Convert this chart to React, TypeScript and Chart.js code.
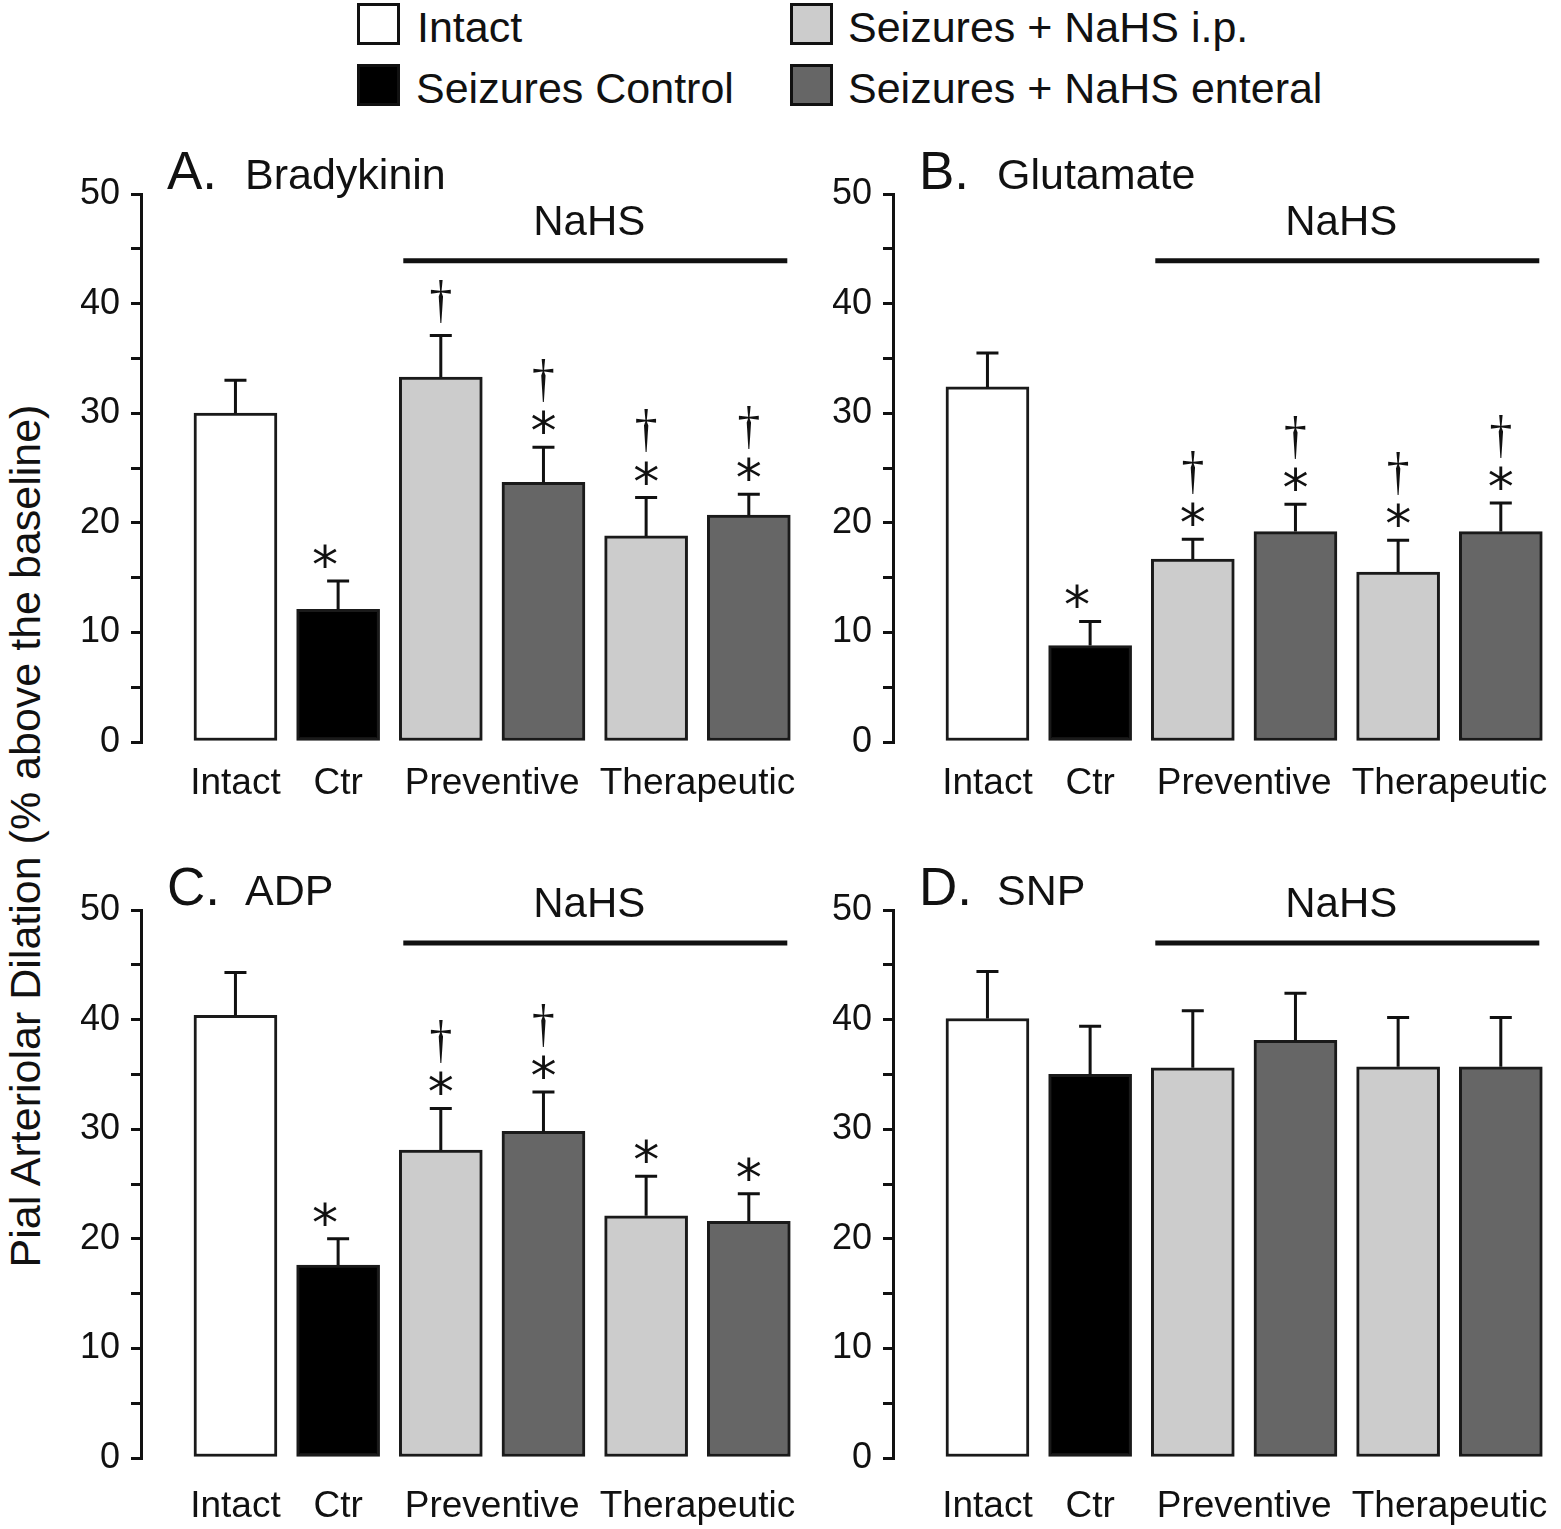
import React, { useEffect, useRef } from 'react';
import { Chart, registerables } from 'chart.js';

Chart.register(...registerables);

const SANS = '"Liberation Sans", Arial, Helvetica, sans-serif';
const SERIF = '"Liberation Serif", "Times New Roman", serif';
const STAR_FONT = '"DejaVu Sans", sans-serif';
const INK = '#111111';

// ---- series / legend ----
const seriesNames = ['Intact', 'Seizures Control', 'Seizures + NaHS i.p.', 'Seizures + NaHS enteral'];
const seriesColors = ['#ffffff', '#000000', '#cccccc', '#666666'];
const barSeries = [0, 1, 2, 3, 2, 3];

// ---- x-axis group labels and the bars each one spans ----
const groupLabels = ['Intact', 'Ctr', 'Preventive', 'Therapeutic'];
const groupFirstBar = [0, 1, 2, 4];
const groupLastBar = [0, 1, 3, 5];

// ---- y axis ----
const yTickLabels = [0, 10, 20, 30, 40, 50];
const yMin = 0;
const yMax = 50;
const yMinorStep = 5;
const yTitle = 'Pial Arteriolar Dilation (% above the baseline)';

// ---- panels ----
const panelLetters = ['A.', 'B.', 'C.', 'D.'];
const panelAgonists = ['Bradykinin', 'Glutamate', 'ADP', 'SNP'];
const bracketText = 'NaHS';
const bracketLevels = [43.9, 43.9, 47.0, 47.0];
const bracketFirstBar = 2;
const bracketLastBar = 5;

// A. Bradykinin
const meansA = [30.0, 12.1, 33.3, 23.7, 18.8, 20.7];
const semA = [3.0, 2.6, 3.8, 3.2, 3.5, 1.9];
const sigA = ['', '*', '†', '†*', '†*', '†*'];
// B. Glutamate
const meansB = [32.4, 8.8, 16.7, 19.2, 15.5, 19.2];
const semB = [3.1, 2.2, 1.8, 2.5, 2.9, 2.6];
const sigB = ['', '*', '†*', '†*', '†*', '†*'];
// C. ADP
const meansC = [40.4, 17.6, 28.1, 29.8, 22.1, 21.6];
const semC = [3.9, 2.4, 3.8, 3.6, 3.6, 2.5];
const sigC = ['', '*', '†*', '†*', '*', '*'];
// D. SNP
const meansD = [40.1, 35.0, 35.6, 38.1, 35.7, 35.7];
const semD = [4.3, 4.4, 5.2, 4.3, 4.5, 4.5];
const sigD = ['', '', '', '', '', ''];

const panelMeans = [meansA, meansB, meansC, meansD];
const panelSem = [semA, semB, semC, semD];
const panelSig = [sigA, sigB, sigC, sigD];

// ---- layout (positions only) ----
const CANVAS_W = 805;
const panelLayout = [
  { left: 0, top: 120, height: 700, labelGap: 42 },
  { left: 752, top: 120, height: 700, labelGap: 42 },
  { left: 0, top: 836, height: 690, labelGap: 49 },
  { left: 752, top: 836, height: 690, labelGap: 49 },
];
const legendLayout = [
  { bx: 357, by: 3, tx: 417, ty: 2 },
  { bx: 357, by: 64, tx: 416, ty: 63 },
  { bx: 790, by: 3, tx: 848, ty: 2 },
  { bx: 790, by: 64, tx: 848, ty: 63 },
];

function drawAsterisk(ctx: CanvasRenderingContext2D, cx: number, cy: number, height: number) {
  ctx.font = `100px ${STAR_FONT}`;
  const m = ctx.measureText('*');
  const h = m.actualBoundingBoxAscent + m.actualBoundingBoxDescent;
  const size = (100 * height) / h;
  ctx.font = `${size}px ${STAR_FONT}`;
  const m2 = ctx.measureText('*');
  ctx.textAlign = 'center';
  ctx.textBaseline = 'alphabetic';
  const y = cy + (m2.actualBoundingBoxAscent - m2.actualBoundingBoxDescent) / 2;
  const xOff = (m2.actualBoundingBoxLeft - m2.actualBoundingBoxRight) / 2;
  ctx.fillText('*', cx + xOff, y);
  return cy - height / 2;
}

function drawDagger(ctx: CanvasRenderingContext2D, cx: number, bottom: number, w: number, h: number) {
  ctx.font = `100px ${SERIF}`;
  ctx.textAlign = 'center';
  ctx.textBaseline = 'alphabetic';
  const m = ctx.measureText('†');
  const gw = m.actualBoundingBoxLeft + m.actualBoundingBoxRight;
  const gh = m.actualBoundingBoxAscent + m.actualBoundingBoxDescent;
  ctx.save();
  ctx.translate(cx, bottom);
  ctx.scale(w / gw, h / gh);
  ctx.fillText('†', (m.actualBoundingBoxLeft - m.actualBoundingBoxRight) / 2, -m.actualBoundingBoxDescent);
  ctx.restore();
}

function makeDecor(pi: number, labelGap: number) {
  const means = panelMeans[pi];
  const sem = panelSem[pi];
  const sig = panelSig[pi];
  return {
    id: 'decor' + pi,
    afterDatasetsDraw(chart: any) {
      const { ctx, chartArea } = chart;
      const ys = chart.scales.y;
      const bars = chart.getDatasetMeta(0).data as any[];
      ctx.save();
      ctx.strokeStyle = INK;
      ctx.fillStyle = INK;
      ctx.lineCap = 'butt';
      // error bars + significance marks
      means.forEach((m, i) => {
        const x = bars[i].x;
        const yTop = ys.getPixelForValue(m);
        const yErr = ys.getPixelForValue(m + sem[i]);
        ctx.lineWidth = 3;
        ctx.beginPath();
        ctx.moveTo(x, yTop);
        ctx.lineTo(x, yErr);
        ctx.moveTo(x - 11, yErr);
        ctx.lineTo(x + 11, yErr);
        ctx.stroke();
        const s = sig[i];
        let base = yErr - 12;
        if (s.includes('*')) {
          const top = drawAsterisk(ctx, x, yErr - 25, 24);
          base = top - 8;
        }
        if (s.includes('†')) drawDagger(ctx, x, base, 20, 43);
      });
      // NaHS bracket
      const b0 = bars[bracketFirstBar];
      const b1 = bars[bracketLastBar];
      const x0 = b0.x - b0.width / 2 + 4;
      const x1 = b1.x + b1.width / 2 - 3;
      const ly = ys.getPixelForValue(bracketLevels[pi]);
      ctx.lineWidth = 5;
      ctx.beginPath();
      ctx.moveTo(x0, ly);
      ctx.lineTo(x1, ly);
      ctx.stroke();
      ctx.font = `42px ${SANS}`;
      ctx.textAlign = 'center';
      ctx.textBaseline = 'middle';
      ctx.fillText(bracketText, (x0 + x1) / 2 - 6, ly - 37);
      // group labels
      ctx.font = `37px ${SANS}`;
      groupLabels.forEach((lab, g) => {
        const gx = (bars[groupFirstBar[g]].x + bars[groupLastBar[g]].x) / 2;
        ctx.fillText(lab, gx, chartArea.bottom + labelGap);
      });
      // panel title
      ctx.textAlign = 'left';
      ctx.textBaseline = 'alphabetic';
      ctx.font = `53px ${SANS}`;
      ctx.fillText(panelLetters[pi], chartArea.left + 26, chartArea.top - 5);
      ctx.font = `43px ${SANS}`;
      ctx.fillText(panelAgonists[pi], chartArea.left + 104, chartArea.top - 5);
      ctx.restore();
    },
  };
}

export default function App() {
  const refs = [
    useRef<HTMLCanvasElement>(null),
    useRef<HTMLCanvasElement>(null),
    useRef<HTMLCanvasElement>(null),
    useRef<HTMLCanvasElement>(null),
  ];

  useEffect(() => {
    Chart.defaults.font.family = SANS;
    const charts = panelLayout.map((lay, pi) => {
      const canvas = refs[pi].current as HTMLCanvasElement;
      return new Chart(canvas, {
        type: 'bar',
        data: {
          datasets: [
            {
              data: panelMeans[pi].map((y, i) => ({ x: i, y })),
              backgroundColor: barSeries.map((s) => seriesColors[s]),
              borderColor: '#1a1a1a',
              borderWidth: 3,
              borderSkipped: false,
              barThickness: 83,
            } as any,
          ],
        },
        options: {
          animation: false,
          responsive: false,
          maintainAspectRatio: false,
          devicePixelRatio: 1,
          events: [],
          layout: { padding: { left: 81, top: 74, right: CANVAS_W - 795, bottom: lay.height - 622 } },
          plugins: { legend: { display: false }, tooltip: { enabled: false }, title: { display: false } },
          scales: {
            x: { type: 'linear', min: -0.92, max: 5.45, offset: false, display: false },
            y: {
              min: yMin,
              max: yMax,
              ticks: {
                stepSize: yMinorStep,
                autoSkip: false,
                padding: 11,
                color: INK,
                font: { family: SANS, size: 36 },
                callback: (v: any) => (yTickLabels.includes(Number(v)) ? String(v) : ''),
              },
              grid: {
                drawOnChartArea: false,
                drawTicks: true,
                tickLength: 10,
                lineWidth: 3,
                tickWidth: 3,
                tickColor: INK,
                color: INK,
              },
              border: { display: true, color: INK, width: 3 },
              afterFit: (scale: any) => {
                scale.width = 60;
              },
            },
          },
        } as any,
        plugins: [makeDecor(pi, lay.labelGap)],
      });
    });
    return () => charts.forEach((c) => c.destroy());
  }, []);

  return (
    <div
      style={{
        position: 'absolute',
        left: 0,
        top: 0,
        width: 1561,
        height: 1529,
        overflow: 'hidden',
        background: '#ffffff',
        fontFamily: SANS,
        color: INK,
      }}
    >
      {seriesNames.map((name, i) => (
        <React.Fragment key={name}>
          <div
            style={{
              position: 'absolute',
              left: legendLayout[i].bx,
              top: legendLayout[i].by,
              width: 43,
              height: 42,
              boxSizing: 'border-box',
              border: `3px solid ${INK}`,
              background: seriesColors[i],
            }}
          />
          <div
            style={{
              position: 'absolute',
              left: legendLayout[i].tx,
              top: legendLayout[i].ty,
              fontSize: 43,
              lineHeight: '50px',
              whiteSpace: 'nowrap',
            }}
          >
            {name}
          </div>
        </React.Fragment>
      ))}
      <div
        style={{
          position: 'absolute',
          left: 25 - 500,
          top: 836 - 25,
          width: 1000,
          height: 50,
          lineHeight: '50px',
          fontSize: 43,
          textAlign: 'center',
          whiteSpace: 'nowrap',
          transform: 'rotate(-90deg)',
        }}
      >
        {yTitle}
      </div>
      {panelLayout.map((lay, pi) => (
        <canvas
          key={pi}
          ref={refs[pi]}
          width={CANVAS_W}
          height={lay.height}
          style={{
            position: 'absolute',
            left: lay.left,
            top: lay.top,
            width: CANVAS_W,
            height: lay.height,
            display: 'block',
          }}
        />
      ))}
    </div>
  );
}
